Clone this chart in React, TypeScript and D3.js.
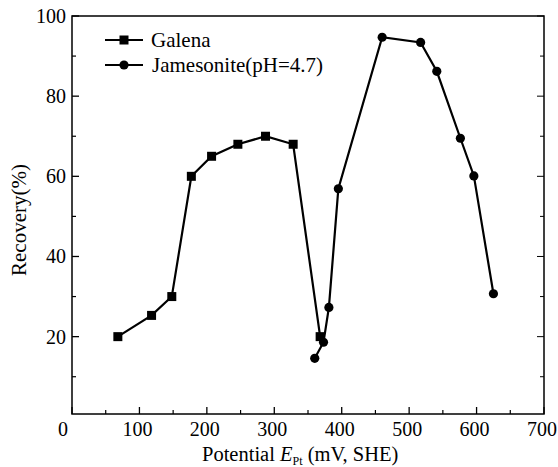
import React from "react";
import * as d3 from "d3";

const galenaX = [68, 118, 148, 177, 207, 246, 287, 328, 368];
const galenaY = [20, 25.3, 30, 60, 65, 68, 70, 68, 20];
const jamesX = [360, 373, 381, 395, 460, 517, 541, 576, 596, 625];
const jamesY = [14.6, 18.6, 27.3, 56.9, 94.7, 93.4, 86.2, 69.5, 60.1, 30.7];
const xTicks = [0, 100, 200, 300, 400, 500, 600, 700];
const xMinor = [50, 150, 250, 350, 450, 550, 650];
const yTicks = [20, 40, 60, 80, 100];
const yMinor = [10, 30, 50, 70, 90];
const seriesNames = ["Galena", "Jamesonite(pH=4.7)"];

const W = 558, H = 467;
const font = "Liberation Serif, Times New Roman, serif";

export default function App() {
  const x = d3.scaleLinear().domain([0, 700]).range([72, 544]);
  const y = d3.scaleLinear().domain([0.7, 100]).range([414, 16]);
  const line = d3.line<[number, number]>().x(d => x(d[0])).y(d => y(d[1]));
  const g = galenaX.map((v, i) => [v, galenaY[i]] as [number, number]);
  const j = jamesX.map((v, i) => [v, jamesY[i]] as [number, number]);
  const x0 = x(0), x1 = x(700), y0 = y(0.7), y1 = y(100);
  const sq = 9;
  return (
    <svg width={W} height={H} style={{ position: "absolute", left: 0, top: 0, background: "#fff" }}>
      <rect x={x0} y={y1} width={x1 - x0} height={y0 - y1} fill="none" stroke="#000" strokeWidth={1.5} />
      {xTicks.map(t => (
        <g key={"xt" + t}>
          <line x1={x(t)} x2={x(t)} y1={y0} y2={y0 - 7} stroke="#000" strokeWidth={1.3} />
          <text x={x(t) + (t === 0 ? -9 : -2)} y={y0 + 22} textAnchor="middle" fontFamily={font} fontSize={20}>{t}</text>
        </g>
      ))}
      {xMinor.map(t => (
        <line key={"xm" + t} x1={x(t)} x2={x(t)} y1={y0} y2={y0 - 4} stroke="#000" strokeWidth={1.2} />
      ))}
      {yTicks.map(t => (
        <g key={"yt" + t}>
          <line x1={x0} x2={x0 + 7} y1={y(t)} y2={y(t)} stroke="#000" strokeWidth={1.3} />
          <line x1={x1} x2={x1 - 7} y1={y(t)} y2={y(t)} stroke="#000" strokeWidth={1} />
          <text x={x0 - 6} y={y(t) + 7} textAnchor="end" fontFamily={font} fontSize={20}>{t}</text>
        </g>
      ))}
      {yMinor.map(t => (
        <g key={"ym" + t}>
          <line x1={x0} x2={x0 + 4} y1={y(t)} y2={y(t)} stroke="#000" strokeWidth={1.2} />
          <line x1={x1} x2={x1 - 4} y1={y(t)} y2={y(t)} stroke="#000" strokeWidth={1} />
        </g>
      ))}
      <path d={line(g) || ""} fill="none" stroke="#000" strokeWidth={2.2} />
      <path d={line(j) || ""} fill="none" stroke="#000" strokeWidth={2.2} />
      {g.map((d, i) => (
        <rect key={"g" + i} x={x(d[0]) - sq / 2} y={y(d[1]) - sq / 2} width={sq} height={sq} fill="#000" />
      ))}
      {j.map((d, i) => (
        <circle key={"j" + i} cx={x(d[0])} cy={y(d[1])} r={4.6} fill="#000" />
      ))}
      <g>
        <line x1={105} x2={143} y1={40} y2={40} stroke="#000" strokeWidth={2.2} />
        <rect x={124 - sq / 2} y={40 - sq / 2} width={sq} height={sq} fill="#000" />
        <text x={151} y={47} fontFamily={font} fontSize={21}>{seriesNames[0]}</text>
        <line x1={105} x2={143} y1={65} y2={65} stroke="#000" strokeWidth={2.2} />
        <circle cx={124} cy={65} r={4.6} fill="#000" />
        <text x={152} y={72} fontFamily={font} fontSize={21}>{seriesNames[1]}</text>
      </g>
      <text x={202} y={461} fontFamily={font} fontSize={20.5}>
        Potential <tspan fontStyle="italic">E</tspan>
        <tspan fontSize={12} dy={4}>Pt</tspan>
        <tspan dy={-4}> (mV, SHE)</tspan>
      </text>
      <text transform={`translate(26,220) rotate(-90)`} textAnchor="middle" fontFamily={font} fontSize={21}>Recovery(%)</text>
    </svg>
  );
}
